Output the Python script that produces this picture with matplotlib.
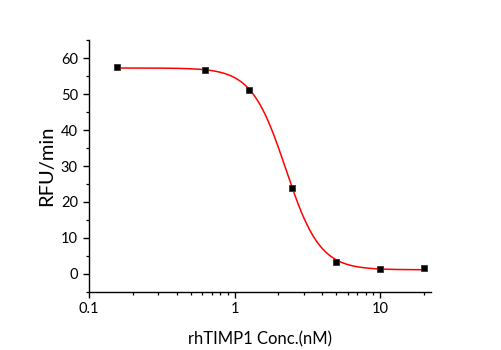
import numpy as np
import matplotlib
matplotlib.use("Agg")
import matplotlib.pyplot as plt
from matplotlib.ticker import LogLocator, FixedLocator, FuncFormatter, MultipleLocator

conc = [0.156, 0.625, 1.25, 2.5, 5, 10, 20]
rfu = [57.5, 56.8, 51.3, 24.0, 3.3, 1.4, 1.5]

x_ticks = [0.1, 1, 10]
x_tick_labels = ["0.1", "1", "10"]
y_ticks = [0, 10, 20, 30, 40, 50, 60]

plt.rcParams['font.family'] = ['Lato', 'DejaVu Sans']

# 4-parameter logistic fit (grid over IC50/hill, linear least squares for top/bottom)
xd = np.array(conc, float)
yd = np.array(rfu, float)
best = None
for c in np.linspace(1.0, 4.0, 301):
    for h in np.linspace(1.0, 6.0, 251):
        g = 1.0 / (1.0 + (xd / c) ** h)
        A = np.vstack([np.ones_like(g), g]).T
        coef, *_ = np.linalg.lstsq(A, yd, rcond=None)
        r = np.sum((A @ coef - yd) ** 2)
        if best is None or r < best[0]:
            best = (r, c, h, coef)
_, c, h, (bottom, span) = best
xf = np.logspace(np.log10(min(conc)), np.log10(max(conc)), 400)
yf = bottom + span / (1.0 + (xf / c) ** h)

fig = plt.figure(figsize=(5.01, 3.5), dpi=100)
ax = fig.add_axes([0.1776, 0.1666, 0.8597 - 0.1776, 0.8857 - 0.1666])
ax.plot(xf, yf, color='#ff0000', lw=1.1, zorder=2)
ax.plot(conc, rfu, 's', color='black', ms=4.6, mec='#333333', mew=0.6, zorder=3, linestyle='none')

ax.set_xscale('log')
ax.set_xlim(0.1, 22.3)
ax.set_ylim(-5, 65.1)
ax.xaxis.set_major_locator(FixedLocator(x_ticks))
ax.xaxis.set_major_formatter(FuncFormatter(lambda v, p: x_tick_labels[x_ticks.index(v)] if v in x_ticks else ""))
ax.xaxis.set_minor_locator(LogLocator(base=10, subs=np.arange(2, 10)))
ax.xaxis.set_minor_formatter(FuncFormatter(lambda v, p: ""))
ax.yaxis.set_major_locator(FixedLocator(y_ticks))
ax.yaxis.set_minor_locator(MultipleLocator(5))

for s in ['top', 'right']:
    ax.spines[s].set_visible(False)
for s in ['left', 'bottom']:
    ax.spines[s].set_linewidth(1.0)
    ax.spines[s].set_color('black')
ax.tick_params(which='major', direction='out', length=4.5, width=1.0, labelsize=10.5, colors='black')
ax.tick_params(which='minor', direction='out', length=2.5, width=0.9)
ax.tick_params(axis='x', pad=3)

ax.set_xlabel('rhTIMP1 Conc.(nM)', fontsize=12, labelpad=11)
ax.set_ylabel('RFU/min', fontsize=14.5, labelpad=4)

fig.savefig('out.png', dpi=100)
